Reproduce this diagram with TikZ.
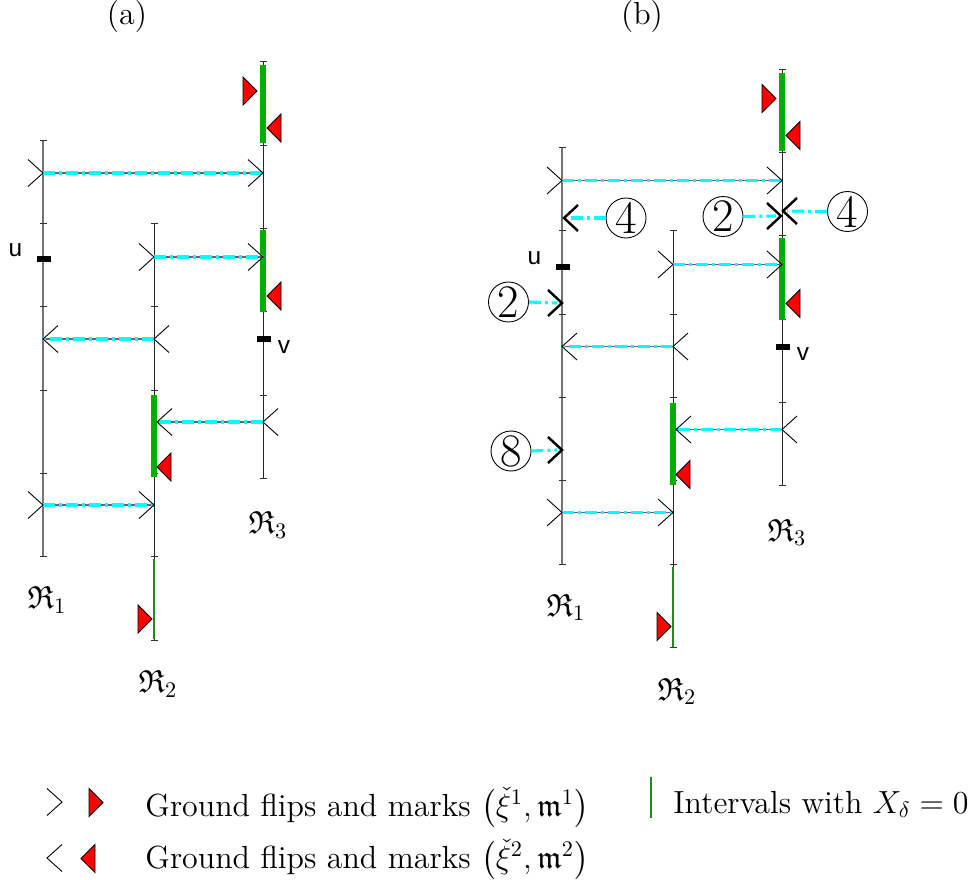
\documentclass[tikz,border=0pt]{standalone}
\usepackage{amsmath,amssymb}
\usepackage{fontspec}
\newfontfamily\labfont{Liberation Sans}
\definecolor{gbright}{RGB}{0,175,0}
\definecolor{gdark}{RGB}{30,140,30}
\definecolor{flipcyan}{RGB}{0,255,255}
\newcommand\txtsize{\fontsize{14.4}{17}\selectfont}
\tikzset{
 rlineA/.style={draw=black!55, line width=0.55pt},
 rline/.style={draw=black!85, line width=0.45pt},
 tickmk/.style={draw=black!80, line width=0.45pt},
 greenthick/.style={draw=gbright, line width=2.5pt},
 greenthin/.style={draw=gdark, line width=1.1pt},
 flipbase/.style={draw=black!60, line width=0.5pt},
 flipdash/.style={draw=flipcyan, line width=1.6pt, dash pattern=on 5.4pt off 1.8pt on 1.35pt off 1.8pt},
 circdash/.style={draw=flipcyan, line width=1.4pt, dash pattern=on 5.4pt off 1.8pt on 1.35pt off 1.8pt},
 chev/.style={draw=black, line width=0.4pt},
 chevthick/.style={draw=black, line width=1.1pt},
 redmk/.style={fill=red, draw=black, line width=0.4pt},
 markbar/.style={fill=black},
 circnum/.style={circle, draw=black, line width=0.4pt, minimum size=18pt, inner sep=0pt, font=\fontsize{21}{24}\selectfont},
 rlab/.style={font=\txtsize, inner sep=0pt},
 uvlab/.style={font=\labfont\fontsize{11}{13}\selectfont, inner sep=0pt},
 flipR/.pic={\draw[chev] (-15,-13.5) -- (0,0) -- (-15,13.5);},
 flipL/.pic={\draw[chev] (15,-13.5) -- (0,0) -- (15,13.5);},
 thickR/.pic={\draw[chevthick] (-14,-13) -- (0,0) -- (-14,13);},
 thickL/.pic={\draw[chevthick] (14,-13) -- (0,0) -- (14,13);},
 markR/.pic={\filldraw[redmk] (-14,-14) -- (-14,14) -- (0,0) -- cycle;},
 markL/.pic={\filldraw[redmk] (14,-14) -- (14,14) -- (0,0) -- cycle;},
}
\newcommand\drawpanel[1]{%
 % vertical lines
 \draw[rlineA] (43,140) coordinate (#1r1t) -- (43,556.7) coordinate (#1r1b);
 \draw[rline] (154,223.3) coordinate (#1r2t) -- (154,640) coordinate (#1r2b);
 \draw[rline] (263,61.7) coordinate (#1r3t) -- (263,478.3) coordinate (#1r3b);
 \foreach \y in {140,223.3,306.7,390,473.3,556.7} \draw[tickmk] (43,\y) ++(-3.5,0) -- ++(7,0);
 \foreach \y in {223.3,306.7,390,473.3,556.7,640} \draw[tickmk] (154,\y) ++(-3.5,0) -- ++(7,0);
 \foreach \y in {61.7,145,228.3,311.7,395,478.3} \draw[tickmk] (263,\y) ++(-3.5,0) -- ++(7,0);
 % green intervals
 \draw[greenthick] (263,65) -- (263,143);
 \draw[greenthick] (263,230) -- (263,312);
 \draw[greenthick] (154,395) -- (154,477);
 \draw[greenthin] (154,559) -- (154,639);
 % flips
 \coordinate (#1f1s) at (43,173);  \coordinate (#1f1e) at (263,173);
 \coordinate (#1f2s) at (154,257); \coordinate (#1f2e) at (263,257);
 \coordinate (#1f3s) at (154,339); \coordinate (#1f3e) at (43,339);
 \coordinate (#1f4s) at (263,422); \coordinate (#1f4e) at (157,422);
 \coordinate (#1f5s) at (43,505);  \coordinate (#1f5e) at (154,505);
 \foreach \n in {1,...,5}{
   \draw[flipbase] (#1f\n s) -- (#1f\n e);
   \draw[flipdash] (#1f\n s) -- (#1f\n e);
 }
 \pic at (#1f1s) {flipR}; \pic at (#1f1e) {flipR};
 \pic at (#1f2s) {flipR}; \pic at (#1f2e) {flipR};
 \pic at (#1f3s) {flipL}; \pic at (#1f3e) {flipL};
 \pic at (#1f4s) {flipL}; \pic at (#1f4e) {flipL};
 \pic at (#1f5s) {flipR}; \pic at (#1f5e) {flipR};
 % marks
 \pic at (257,91) {markR};
 \pic at (267,128) {markL};
 \pic at (267,296) {markL};
 \pic at (157,467) {markL};
 \pic at (152,619) {markR};
 % u, v
 \fill[markbar] (36.5,256.3) rectangle (50.5,262.3);
 \fill[markbar] (256.5,336.3) rectangle (270.5,342.3);
 \node[uvlab] (#1u) at (15.5,250.5) {u};
 \node[uvlab] (#1v) at (284,347) {v};
 % labels
 \node[rlab] (#1R1) at (47,600) {$\mathfrak{R}_1$};
 \node[rlab] (#1R2) at (158,684) {$\mathfrak{R}_2$};
 \node[rlab] (#1R3) at (268,525) {$\mathfrak{R}_3$};
}
\begin{document}
\begin{tikzpicture}[x=0.45pt,y=-0.45pt]
\useasboundingbox (0,0) rectangle (974,879);
\node[rlab] (ta) at (127,17) {(a)};
\node[rlab] (tb) at (642,17) {(b)};
\drawpanel{a}
\begin{scope}[shift={(519,7.5)}]
\drawpanel{b}
\end{scope}
% extra flips in (b)
\node[circnum] (c4a) at (626,218) {4};
\coordinate (k4a) at (564,218);
\draw[circdash] (c4a.west) -- (568,218);
\pic at (k4a) {thickL};
\node[circnum] (c2b) at (723,216.5) {2};
\coordinate (k2b) at (781,216);
\draw[circdash] (c2b.east) -- (776,216);
\pic at (k2b) {thickR};
\node[circnum] (c4b) at (847.5,211.5) {4};
\coordinate (k4b) at (783,211);
\draw[circdash] (c4b.west) -- (787,211);
\pic at (k4b) {thickL};
\node[circnum] (c2a) at (508.5,302) {2};
\coordinate (k2a) at (562,303);
\draw[circdash] (c2a.east) -- (557,303);
\pic at (k2a) {thickR};
\node[circnum] (c8a) at (511,451) {8};
\coordinate (k8a) at (562,450);
\draw[circdash] (c8a.east) -- (557,450);
\pic at (k8a) {thickR};
% legend
\pic at (62,802) {flipR};
\pic at (103,802.5) {markR};
\pic at (47,858) {flipL};
\pic at (81,858.5) {markL};
\node[rlab, anchor=base west] (lg1) at (145,816) {Ground flips and marks $\bigl(\check{\xi}^1,\mathfrak{m}^1\bigr)$};
\node[rlab, anchor=base west] (lg2) at (145,868) {Ground flips and marks $\bigl(\check{\xi}^2,\mathfrak{m}^2\bigr)$};
\draw[greenthin] (651,777) -- (651,818);
\node[rlab, anchor=base west] (lg3) at (673,813) {Intervals with $X_\delta=0$};
\end{tikzpicture}
\end{document}
